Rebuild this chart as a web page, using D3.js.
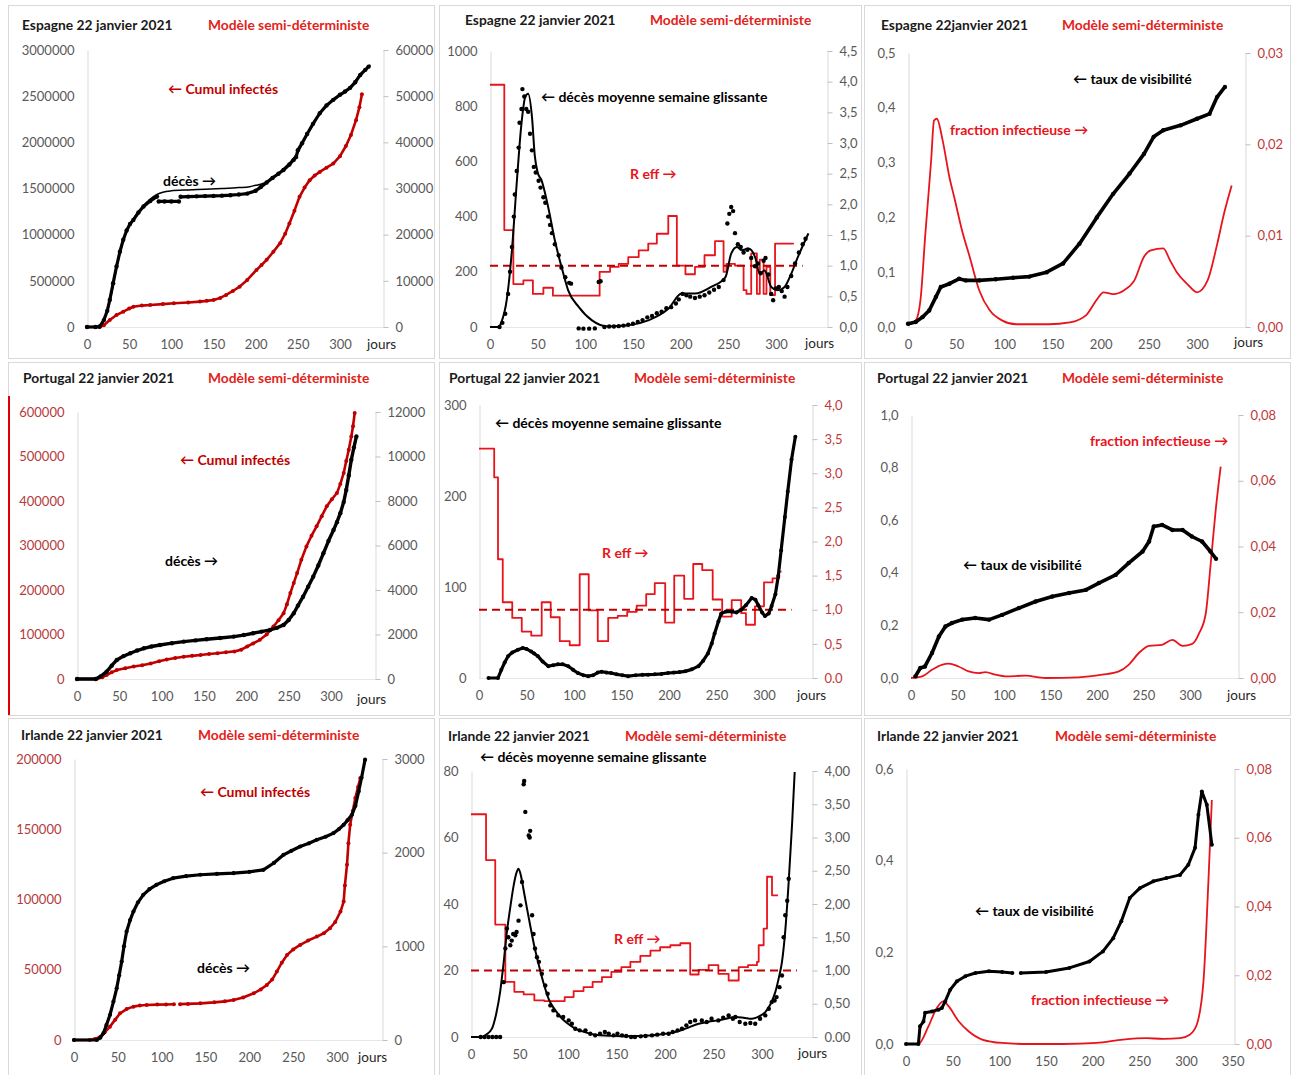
<!DOCTYPE html>
<html lang="fr">
<head>
<meta charset="UTF-8"/>
<title>Modèle semi-déterministe – Espagne, Portugal, Irlande</title>
<script src="https://d3js.org/d3.v7.min.js"></script>
<style>
  body { margin: 0; background: #fff; }
</style>
</head>
<body>
<script>
// ---------- data (day, value) ----------

// Espagne : cumul infectés (axe gauche) et décès cumulés (axe droit)
var esCumInf = [[0,0],[15,0],[20,20000],[27,76000],[35,130000],[43,166000],[50,200000],[55,220000],[65,232000],[75,239000],[90,248000],[103,257000],[120,266000],[134,275000],[142,283000],[150,293000],[158,315000],[165,347000],[173,390000],[181,437000],[190,510000],[201,618000],[207,672000],[213,727000],[221,815000],[229,908000],[235,1010000],[240,1120000],[246,1260000],[252,1410000],[258,1510000],[264,1590000],[270,1640000],[276,1680000],[284,1725000],[292,1770000],[300,1850000],[307,1960000],[313,2080000],[319,2240000],[323,2380000],[326,2520000]];
var esDeces = [[0,0],[10,0],[15,100],[20,1500],[24,3500],[27,5850],[31,9500],[35,13100],[39,16300],[43,18900],[47,20900],[51,22300],[55,23200],[61,24800],[67,26100],[75,27300],[83,28250],[84,null],[85,27200],[92,27200],[100,27200],[109,27200],[110,null],[111,28200],[120,28250],[130,28300],[140,28350],[150,28400],[160,28450],[170,28550],[180,28700],[190,28900],[200,29500],[206,30300],[213,31300],[220,32300],[227,33200],[233,34000],[240,35200],[245,36200],[248,36800],[250,38300],[255,39800],[261,41800],[268,44000],[276,46300],[284,48000],[292,49200],[300,50300],[306,51000],[312,51800],[318,53000],[324,54600],[330,55700],[334,56400]];
var esDecesModel = [[0,0],[15,100],[20,1300],[27,5500],[35,12800],[43,18700],[51,22200],[59,24500],[67,26300],[75,27700],[83,28700],[90,29200],[100,29500],[120,29700],[140,29850],[160,30000],[180,30200],[193,30400],[200,30700],[206,30900],[213,31400],[227,33300],[240,35500],[250,37800],[261,41800],[276,46300],[292,49300],[312,51900],[324,54700],[336,56800]];

// Espagne : décès moyenne semaine glissante et R eff
var esDecesJour = [[10,0],[13,15],[16,48],[19,120],[21,200],[23,290],[25,400],[26,480],[28,565],[30,650],[31,740],[33,790],[34,862],[36,835],[38,790],[40,780],[42,700],[44,640],[46,580],[48,560],[51,530],[53,505],[56,470],[58,450],[61,400],[63,370],[65,340],[68,300],[72,260],[75,215],[79,180],[83,160],[85,157],[93,-5],[98,-6],[104,-6],[110,-5],[114,163],[116,166],[120,0],[125,2],[130,2],[135,3],[140,5],[145,8],[150,12],[155,18],[160,25],[165,35],[170,40],[175,50],[180,55],[185,68],[190,72],[195,85],[198,100],[202,120],[206,115],[210,110],[215,105],[220,110],[225,115],[230,125],[235,135],[240,145],[245,170],[249,375],[251,410],[253,435],[255,420],[257,340],[260,300],[263,290],[266,270],[270,280],[274,250],[278,220],[281,230],[284,195],[287,240],[289,250],[292,190],[295,120],[297,97],[300,140],[303,145],[306,130],[309,110],[312,145],[316,185],[320,230],[324,270],[328,300],[331,320]];
var esDecesJourModel = [[0,0],[9,0],[12,18],[17.5,97],[23,278],[28,520],[33,737],[37,834],[40,845],[44,762],[47,620],[50,560],[54,532],[61,435],[68,314],[75,218],[82,133],[93,73],[107,24],[124,2],[145,6],[166,24],[187,66],[201,121],[215,121],[232,145],[247,181],[253,266],[259,290],[264,278],[271,284],[278,254],[283,193],[288,205],[295,145],[302,133],[309,145],[316,193],[323,254],[334,339]];
var esReff = [[0,3.95],[15,1.58],[24.5,0.7],[35,0.76],[45,0.54],[56,0.64],[66,0.51],[115,0.9],[126,0.98],[135,1.03],[145,1.14],[156,1.25],[166,1.36],[175,1.52],[187,1.81],[196,1.0],[205,0.86],[215,0.98],[225,1.17],[236,1.4],[245,0.9],[248,1.03],[257,1.0],[266,0.6],[269,0.54],[274,1.2],[280,0.54],[283,1.1],[287,0.54],[290,0.98],[294,0.52],[299,1.36],[318,1.35]];
var esReffUn = [[0,1],[328,1]];

// Espagne : taux de visibilité et fraction infectieuse
var esVisib = [[0,0.006],[8,0.009],[15,0.018],[22,0.03],[29,0.055],[34,0.073],[43,0.079],[53,0.088],[60,0.085],[74,0.085],[91,0.087],[109,0.09],[126,0.092],[144,0.1],[161,0.116],[178,0.152],[196,0.2],[213,0.243],[230,0.28],[245,0.316],[255,0.347],[265,0.359],[283,0.368],[300,0.38],[313,0.389],[321,0.42],[329,0.438]];
var esFraction = [[0,0.0002],[8,0.0007],[13,0.003],[18,0.0102],[24,0.0182],[27,0.0226],[30,0.0228],[36,0.0204],[43,0.0164],[48,0.0142],[57,0.0102],[64,0.0077],[74,0.004],[85,0.0018],[98,0.0007],[112,0.0003],[126,0.0003],[146,0.0003],[168,0.0005],[185,0.0013],[196,0.003],[203,0.0038],[213,0.0036],[224,0.004],[235,0.0051],[245,0.0077],[252,0.0084],[265,0.0086],[272,0.0073],[279,0.006],[290,0.0047],[300,0.0038],[311,0.0051],[321,0.0091],[328,0.0124],[336,0.0155]];

// Portugal
var ptCumInf = [[0,0],[23,0],[30,4000],[35,9000],[41,15000],[47,20000],[57,24000],[67,28000],[77,31000],[87,35000],[97,40000],[106,44000],[116,47000],[126,50000],[136,52000],[146,54000],[156,56000],[166,58000],[176,60000],[186,62000],[194,66000],[201,73000],[208,80000],[216,88000],[224,100000],[232,118000],[238,132000],[244,148000],[248,168000],[252,193000],[256,216000],[260,238000],[265,268000],[271,298000],[277,322000],[283,343000],[289,366000],[295,388000],[301,404000],[307,418000],[311,438000],[315,463000],[318,490000],[321,515000],[324,545000],[326,568000],[328,598000]];
var ptDeces = [[0,0],[22,0],[28,120],[35,330],[41,600],[47,855],[55,1030],[63,1155],[71,1280],[79,1380],[88,1460],[98,1530],[112,1610],[126,1680],[140,1735],[153,1785],[169,1845],[185,1905],[197,1975],[208,2055],[218,2130],[228,2205],[236,2300],[244,2430],[250,2650],[256,2955],[261,3300],[267,3700],[273,4150],[279,4600],[285,5100],[291,5650],[297,6200],[303,6700],[307,7050],[311,7455],[315,7950],[318,8500],[321,9150],[324,9855],[327,10400],[330,10900]];
var ptDecesJour = [[10,0],[20,0],[23.5,9],[27,17],[30.6,24],[35,28],[41,31],[46,33],[50,32],[55,29],[58,27],[62,24],[67,18],[73,13],[78,14],[83,15],[88,15],[94,13],[99,9],[104,5.5],[110,3],[115,2],[120,3],[125,6],[129,7],[134,6],[139,5.5],[145,4],[151,3],[157,2],[165,3],[172,3.5],[178,3.7],[185,4],[192,4.5],[199,5.5],[205,6],[211,6.5],[217,7.3],[224,9.5],[231,13],[236,19],[241,27],[245,38],[248,49],[252,62],[255,71],[260,73],[266,73],[271,72],[276,75],[281,80],[287,88],[291,86],[294,80],[298,72],[301,68],[305,71],[308,79],[312,92],[315,112],[318,140],[322,177],[325,205],[329,240],[333,265]];
var ptReff = [[0,3.36],[16,2.94],[20,1.74],[25,1.11],[35,0.88],[45,0.68],[55,0.62],[66,1.11],[75.5,0.89],[85,0.54],[95.5,0.48],[106,1.52],[115.5,0.99],[125,0.54],[136,0.88],[146,0.91],[156,0.97],[166,1.06],[176,1.23],[185,1.39],[196,0.81],[205.5,1.5],[216,1.16],[225.5,1.67],[235,1.58],[246,1.15],[256,0.9],[266,1.14],[276,0.95],[281,0.78],[290.5,1.05],[300,1.4],[309,1.46],[316,1.56],[318.5,1.56]];
var ptReffUn = [[0,1],[329,1]];
var ptVisib = [[4.7,0.006],[10,0.038],[15,0.044],[22.6,0.095],[30,0.158],[37,0.196],[44,0.209],[55,0.222],[69,0.228],[84,0.222],[98,0.24],[116,0.266],[134,0.291],[152,0.31],[170,0.323],[188,0.335],[202,0.361],[220,0.392],[234,0.437],[249,0.481],[256,0.519],[261,0.576],[270,0.582],[281,0.563],[292,0.563],[302,0.538],[313,0.519],[322,0.481],[328,0.453]];
var ptFraction = [[0,0],[12,0.0005],[22.6,0.0025],[33,0.004],[40.5,0.0044],[51,0.0035],[62,0.002],[73,0.0015],[80,0.0018],[91,0.001],[101.5,0.0005],[123,0.0007],[144.6,0],[180,0.0002],[205.6,0.001],[223.5,0.002],[234,0.004],[245,0.0076],[256,0.0098],[270,0.0101],[281,0.0116],[292,0.0098],[302.5,0.0104],[310,0.0137],[317,0.0197],[322,0.034],[327.6,0.051],[333,0.0643]];

// Irlande
var ieCumInf = [[0,0],[18,0],[24,800],[30,2400],[35,5500],[41,9500],[47,14500],[52.5,19000],[60,22000],[67.8,23750],[75,24500],[83,24940],[95,25200],[105,25300],[114,25400],[117,null],[121,25500],[130,25700],[144,26100],[160,26800],[172,27500],[182,28500],[193,30300],[205,33250],[213,36000],[220,39200],[226,43000],[231.4,48700],[237,55000],[243,60560],[250,64500],[258,67700],[267,70800],[277,73600],[285,76000],[292,79560],[298,84000],[304,91440],[307.6,98560],[309,110000],[311.4,124690],[313,140000],[315,153190],[318,163000],[320.9,172190],[324,180000],[326.6,186440]];
var ieDeces = [[0,0],[26,0],[30,25],[33.5,71],[37,160],[41,267],[45,410],[48.7,552],[51.5,690],[54.4,837],[57,1000],[60,1158],[64,1280],[67.8,1372],[73,1470],[79,1550],[86,1610],[94,1657],[103,1695],[113,1728],[128,1750],[144,1764],[163,1773],[182,1781],[200,1795],[216,1817],[228,1890],[239,1977],[248,2020],[258,2066],[268,2100],[277,2138],[287,2170],[296,2209],[302,2250],[307.6,2298],[312,2345],[317,2405],[321,2500],[324.7,2654],[328,2800],[332,2993]];
var ieDecesJour = [[10,0],[14,0],[18,0],[22,0],[26,0],[30,0],[33.7,16.5],[35.4,26.6],[37,32.6],[38.5,30],[40.5,27.6],[42,29],[43.5,31],[45.7,30.6],[47,31.6],[49,35],[51,39.6],[52.6,46.6],[54.3,76],[54.8,77],[56,67.7],[59.5,60.6],[60.5,60],[61,62],[63,36.6],[64.5,31],[66,26.6],[68,24],[70,22.6],[73,19],[76.6,15.5],[79,13],[81.8,9.5],[85,8],[90,6.5],[95,6],[100.7,5],[104,4],[107.5,2.5],[112,2],[118,2],[123,1],[128,0.5],[133,1],[138,1.5],[142,1],[147,0.5],[151,1],[155.7,0.5],[160,0.3],[165,0],[169,0],[175,0.2],[180,0.3],[186.6,0.5],[192,0.7],[198,1],[203.8,1],[208,1.5],[213,2],[217.5,2.5],[222,3.5],[226,4.5],[231,5],[238,5],[243,4.5],[248,5.5],[255,5],[260,5.8],[265.6,6.5],[270,5.5],[272.5,6],[277,4.5],[282.8,4],[288,4.2],[293,4],[298,5.5],[303.4,6.5],[307,8.5],[310,10.5],[313,11],[315,12],[318,15],[320.6,18.5],[322.3,30],[324,36.6],[326,41],[327.5,47.6]];
var ieDecesJourModel = [[0,0],[11,0],[16,0.8],[21.6,2.5],[26,7],[30,13.5],[33.5,22],[37,31.6],[40.5,39],[44,45.6],[47,49.5],[49,50.6],[51.5,48.5],[54,44.6],[57.5,39],[61,33.6],[65.5,27],[70,21.6],[75,16],[80,11.5],[87,8],[94,5.5],[100,4],[107.5,2.5],[118,1.4],[128,0.7],[142,0.4],[155.7,0.2],[170,0.3],[186.6,0.5],[198,0.9],[210.7,1.5],[222,2.6],[234.7,4],[245,4.6],[255,5],[263,5.5],[272.5,6],[281,5.8],[289.7,5.5],[297,6.2],[303.4,7.5],[309,10],[313.7,13.5],[317.5,18],[320.6,22.6],[324,32],[327.5,46.6],[331,64],[333.7,79.7]];
var ieReff = [[0,3.35],[15.5,2.66],[25,1.69],[35.4,0.83],[44.7,0.68],[54.3,0.64],[65.3,0.55],[75.6,0.54],[96.6,0.6],[105.8,0.69],[116,0.75],[125.4,0.83],[135,0.9],[144.7,0.98],[155,1.05],[164.3,1.13],[174.6,1.22],[185,1.3],[195,1.35],[205.5,1.38],[215.8,1.41],[226,0.94],[234.7,1.01],[245,1.08],[255,0.95],[265.6,0.85],[276,1.05],[285.6,1.08],[294.8,1.13],[296.6,1.38],[301.7,1.63],[305.2,2.41],[310.3,2.13],[316.5,2.13]];
var ieReffUn = [[0,1],[336,1]];
var ieVisib = [[0,0],[13.3,0],[15,0.0385],[18.7,0.049],[20.5,0.068],[27.7,0.071],[34.9,0.075],[38.4,0.0785],[42,0.093],[47.4,0.1185],[54.6,0.137],[63.6,0.148],[74.4,0.155],[88.8,0.1585],[103,0.157],[114,0.155],[118,null],[123,0.155],[150,0.157],[175,0.166],[196.5,0.18],[211,0.202],[222,0.231],[230.7,0.268],[239.7,0.3185],[250.5,0.34],[265,0.355],[279,0.362],[293.6,0.369],[302.5,0.391],[309.7,0.428],[313.3,0.5],[317,0.551],[322.3,0.522],[327.7,0.435]];
var ieFraction = [[0,0],[13.3,0],[24,0.0051],[33,0.0105],[40,0.0124],[45.6,0.011],[56.4,0.0066],[67,0.0037],[81.6,0.0013],[103,0.0003],[132,0],[168,0],[204,0.0003],[232.5,0.0013],[257.6,0.0017],[275.6,0.0015],[293.6,0.0017],[304,0.0027],[311.5,0.0056],[318.7,0.0182],[324,0.0473],[327.7,0.071]];

// ---------- style ----------
var FONT = "Lato, 'Open Sans', 'DejaVu Sans', sans-serif";
var GREY = "#595959";
var RED = "#e8141c";
var DARKRED = "#c00000";
var TITLERED = "#e2231a";
var AXISRED = "#c0393b";

function num(d) { return String(Math.round(d)); }
function dec(n, zero) {
    return function(d) {
        if (Math.abs(d) < 1e-9 && zero) return zero;
        return d3.format("." + n + "f")(d).replace(".", ",");
    };
}

// ---------- panels ----------
var panels = [
    { frame: [8, 5, 426, 353], title: "Espagne 22 janvier 2021", tx: 22, ty: 26, mx: 208,
      x0: 87, x300: 340, yB: 327, yT: 50, rightX: 383, xMax: 300, jours: [367, 346],
      left: { max: 3000000, step: 500000, fmt: num, color: GREY },
      right: { max: 60000, step: 10000, fmt: num, color: GREY },
      series: [
        { data: esCumInf, axis: "L", type: "dots", color: DARKRED, w: 2.6, r: 2 },
        { data: esDecesModel, axis: "R", type: "line", color: "#000", w: 1.5 },
        { data: esDeces, axis: "R", type: "dots", color: "#000", w: 3.2, r: 2.2 }
      ],
      notes: [
        { text: "\u2190 Cumul infectés", x: 168, y: 90, color: DARKRED },
        { text: "décès \u2192", x: 163, y: 182, color: "#000" }
      ] },
    { frame: [439, 5, 422, 353], title: "Espagne 22 janvier 2021", tx: 465, ty: 21, mx: 650,
      x0: 490, x300: 776, yB: 327, yT: 51, rightX: 827, xMax: 300, jours: [805, 345],
      left: { max: 1000, step: 200, fmt: num, color: GREY },
      right: { max: 4.5, step: 0.5, fmt: dec(1), color: GREY },
      series: [
        { data: esReff, axis: "R", type: "step", color: RED, w: 1.8 },
        { data: esReffUn, axis: "R", type: "dash", color: DARKRED, w: 2 },
        { data: esDecesJourModel, axis: "L", type: "line", color: "#000", w: 2 },
        { data: esDecesJour, axis: "L", type: "pts", color: "#000", r: 2.2 }
      ],
      notes: [
        { text: "\u2190 décès moyenne semaine glissante", x: 541, y: 98, color: "#000" },
        { text: "R eff \u2192", x: 630, y: 175, color: RED }
      ] },
    { frame: [864, 5, 426, 353], title: "Espagne 22janvier 2021", tx: 881, ty: 26, mx: 1062,
      x0: 908, x300: 1197, yB: 327, yT: 53, rightX: 1245, xMax: 300, jours: [1234, 344],
      left: { max: 0.5, step: 0.1, fmt: dec(1), color: GREY },
      right: { max: 0.03, step: 0.01, fmt: dec(2), color: AXISRED },
      series: [
        { data: esFraction, axis: "R", type: "line", color: RED, w: 1.8 },
        { data: esVisib, axis: "L", type: "dots", color: "#000", w: 3.6, r: 2.2 }
      ],
      notes: [
        { text: "\u2190 taux de visibilité", x: 1073, y: 80, color: "#000" },
        { text: "fraction infectieuse \u2192", x: 950, y: 131, color: RED }
      ] },
    { frame: [8, 362, 426, 353], title: "Portugal 22 janvier 2021", tx: 23, ty: 379, mx: 208,
      x0: 77, x300: 331, yB: 679, yT: 412, rightX: 375, xMax: 300, jours: [357, 701],
      left: { max: 600000, step: 100000, fmt: num, color: "#b33b3b" },
      right: { max: 12000, step: 2000, fmt: num, color: GREY },
      series: [
        { data: ptCumInf, axis: "L", type: "dots", color: DARKRED, w: 2.6, r: 2 },
        { data: ptDeces, axis: "R", type: "dots", color: "#000", w: 3.4, r: 2.2 }
      ],
      notes: [
        { text: "\u2190 Cumul infectés", x: 180, y: 461, color: DARKRED },
        { text: "décès \u2192", x: 165, y: 562, color: "#000" }
      ] },
    { frame: [439, 362, 422, 353], title: "Portugal 22 janvier 2021", tx: 449, ty: 379, mx: 634,
      x0: 479, x300: 764, yB: 678, yT: 405, rightX: 812, xMax: 300, jours: [797, 697],
      left: { max: 300, step: 100, fmt: num, color: GREY },
      right: { max: 4, step: 0.5, fmt: dec(1, "0.0"), color: AXISRED },
      series: [
        { data: ptReff, axis: "R", type: "step", color: RED, w: 1.8 },
        { data: ptReffUn, axis: "R", type: "dash", color: DARKRED, w: 2 },
        { data: ptDecesJour, axis: "L", type: "dots", color: "#000", w: 3.2, r: 2 }
      ],
      notes: [
        { text: "\u2190 décès moyenne semaine glissante", x: 495, y: 424, color: "#000" },
        { text: "R eff \u2192", x: 602, y: 554, color: RED }
      ] },
    { frame: [864, 362, 426, 353], title: "Portugal 22 janvier 2021", tx: 877, ty: 379, mx: 1062,
      x0: 911, x300: 1190, yB: 678, yT: 415, rightX: 1238, xMax: 300, jours: [1227, 697],
      left: { max: 1.0, step: 0.2, fmt: dec(1), color: GREY },
      right: { max: 0.08, step: 0.02, fmt: dec(2), color: AXISRED },
      series: [
        { data: ptFraction, axis: "R", type: "line", color: RED, w: 1.8 },
        { data: ptVisib, axis: "L", type: "dots", color: "#000", w: 3.6, r: 2.2 }
      ],
      notes: [
        { text: "fraction infectieuse \u2192", x: 1090, y: 442, color: RED },
        { text: "\u2190 taux de visibilité", x: 963, y: 566, color: "#000" }
      ] },
    { frame: [8, 718, 426, 357], title: "Irlande 22 janvier 2021", tx: 21, ty: 736, mx: 198,
      x0: 74, x300: 337, yB: 1040, yT: 759, rightX: 382, xMax: 300, jours: [358, 1059],
      left: { max: 200000, step: 50000, fmt: num, color: "#b33b3b" },
      right: { max: 3000, step: 1000, fmt: num, color: GREY },
      series: [
        { data: ieCumInf, axis: "L", type: "dots", color: DARKRED, w: 2.6, r: 2 },
        { data: ieDeces, axis: "R", type: "dots", color: "#000", w: 3.2, r: 2.1 }
      ],
      notes: [
        { text: "\u2190 Cumul infectés", x: 200, y: 793, color: DARKRED },
        { text: "décès \u2192", x: 197, y: 969, color: "#000" }
      ] },
    { frame: [439, 718, 422, 357], title: "Irlande 22 janvier 2021", tx: 448, ty: 737, mx: 625,
      x0: 471, x300: 762, yB: 1037, yT: 771, rightX: 812, xMax: 300, jours: [798, 1055],
      left: { max: 80, step: 20, fmt: num, color: GREY },
      right: { max: 4, step: 0.5, fmt: dec(2, "0.00"), color: GREY },
      series: [
        { data: ieReff, axis: "R", type: "step", color: RED, w: 1.8 },
        { data: ieReffUn, axis: "R", type: "dash", color: DARKRED, w: 2 },
        { data: ieDecesJourModel, axis: "L", type: "line", color: "#000", w: 2 },
        { data: ieDecesJour, axis: "L", type: "pts", color: "#000", r: 2.2 }
      ],
      notes: [
        { text: "\u2190 décès moyenne semaine glissante", x: 480, y: 758, color: "#000" },
        { text: "R eff \u2192", x: 614, y: 940, color: RED }
      ] },
    { frame: [864, 718, 426, 357], title: "Irlande 22 janvier 2021", tx: 877, ty: 737, mx: 1055,
      x0: 906, x300: 1186, yB: 1044, yT: 769, rightX: 1234, xMax: 350, jours: null,
      left: { max: 0.6, step: 0.2, fmt: dec(1), color: GREY },
      right: { max: 0.08, step: 0.02, fmt: dec(2), color: AXISRED },
      series: [
        { data: ieFraction, axis: "R", type: "line", color: RED, w: 1.8 },
        { data: ieVisib, axis: "L", type: "dots", color: "#000", w: 3, r: 2 }
      ],
      notes: [
        { text: "\u2190 taux de visibilité", x: 975, y: 912, color: "#000" },
        { text: "fraction infectieuse \u2192", x: 1031, y: 1001, color: RED }
      ] }
];

// ---------- drawing ----------
var svg = d3.select("body")
            .append("svg")
            .attr("width", 1293)
            .attr("height", 1075)
            .style("display", "block");

svg.append("rect").attr("width", 1293).attr("height", 1075).attr("fill", "#fff");

panels.forEach(drawPanel);

// red mark on the left edge of the Portugal row (as in the screenshot)
svg.append("line")
    .attr("x1", 9).attr("x2", 9).attr("y1", 396).attr("y2", 715)
    .attr("stroke", "#e00000").attr("stroke-width", 2);

function tickList(a) {
    return d3.range(0, a.max + a.step / 2, a.step);
}

function styleAxis(g, color) {
    g.attr("font-family", FONT).attr("font-size", 13);
    g.selectAll("text").attr("fill", color);
    g.select(".domain").attr("stroke", "#d9d9d9");
    g.selectAll(".tick line").attr("stroke", "#bfbfbf");
}

function drawPanel(p) {
    var g = svg.append("g");

    g.append("rect")
        .attr("x", p.frame[0] + 0.5).attr("y", p.frame[1] + 0.5)
        .attr("width", p.frame[2]).attr("height", p.frame[3])
        .attr("fill", "#fff")
        .attr("stroke", "#d9d9d9");

    var x = d3.scaleLinear().domain([0, 300]).range([p.x0, p.x300]);
    var yL = d3.scaleLinear().domain([0, p.left.max]).range([p.yB, p.yT]);
    var yR = d3.scaleLinear().domain([0, p.right.max]).range([p.yB, p.yT]);

    // horizontal base line
    g.append("line")
        .attr("x1", p.x0).attr("x2", p.rightX)
        .attr("y1", p.yB + 0.5).attr("y2", p.yB + 0.5)
        .attr("stroke", "#e6e6e6");

    // left axis
    g.append("g")
        .attr("transform", "translate(" + (p.x0 + 0.5) + ",0)")
        .call(d3.axisLeft(yL).tickValues(tickList(p.left)).tickFormat(p.left.fmt)
              .tickSize(0).tickPadding(13))
        .call(styleAxis, p.left.color);

    // right axis
    g.append("g")
        .attr("transform", "translate(" + (p.rightX + 0.5) + ",0)")
        .call(d3.axisRight(yR).tickValues(tickList(p.right)).tickFormat(p.right.fmt)
              .tickSize(5).tickSizeOuter(0).tickPadding(7))
        .call(styleAxis, p.right.color);

    // bottom axis
    g.append("g")
        .attr("transform", "translate(0," + p.yB + ")")
        .call(d3.axisBottom(x).tickValues(d3.range(0, p.xMax + 1, 50)).tickSize(0).tickPadding(13))
        .call(styleAxis, GREY)
        .call(function(a) { a.select(".domain").remove(); });

    if (p.jours) {
        g.append("text")
            .attr("x", p.jours[0]).attr("y", p.jours[1])
            .attr("dominant-baseline", "middle")
            .attr("font-family", FONT).attr("font-size", 13.5)
            .attr("fill", "#262626")
            .text("jours");
    }

    // series
    p.series.forEach(function(s) {
        var y = s.axis === "R" ? yR : yL;
        var line = d3.line()
                     .defined(function(d) { return d[1] != null; })
                     .x(function(d) { return x(d[0]); })
                     .y(function(d) { return y(d[1]); });
        if (s.type === "step") line.curve(d3.curveStepAfter);
        if (s.type === "line") line.curve(d3.curveMonotoneX);

        if (s.type !== "pts") {
            g.append("path")
                .datum(s.data)
                .attr("d", line)
                .attr("fill", "none")
                .attr("stroke", s.color)
                .attr("stroke-width", s.w)
                .attr("stroke-linejoin", "round")
                .attr("stroke-dasharray", s.type === "dash" ? "8,5" : null);
        }
        if (s.type === "dots" || s.type === "pts") {
            g.selectAll(null)
                .data(s.data.filter(function(d) { return d[1] != null; }))
                .enter()
                .append("circle")
                .attr("cx", function(d) { return x(d[0]); })
                .attr("cy", function(d) { return y(d[1]); })
                .attr("r", s.r)
                .attr("fill", s.color);
        }
    });

    // titles
    g.append("text")
        .attr("x", p.tx).attr("y", p.ty)
        .attr("dominant-baseline", "middle")
        .attr("font-family", FONT).attr("font-size", 13.8).attr("font-weight", "bold")
        .attr("fill", "#1a1a1a")
        .text(p.title);
    g.append("text")
        .attr("x", p.mx).attr("y", p.ty)
        .attr("dominant-baseline", "middle")
        .attr("font-family", FONT).attr("font-size", 13.8).attr("font-weight", "bold")
        .attr("fill", TITLERED)
        .text("Modèle semi-déterministe");

    // annotations
    p.notes.forEach(function(n) {
        g.append("text")
            .attr("x", n.x).attr("y", n.y)
            .attr("dominant-baseline", "middle")
            .attr("font-family", FONT).attr("font-size", 14).attr("font-weight", "bold")
            .attr("fill", n.color)
            .text(n.text);
    });
}
</script>
</body>
</html>
